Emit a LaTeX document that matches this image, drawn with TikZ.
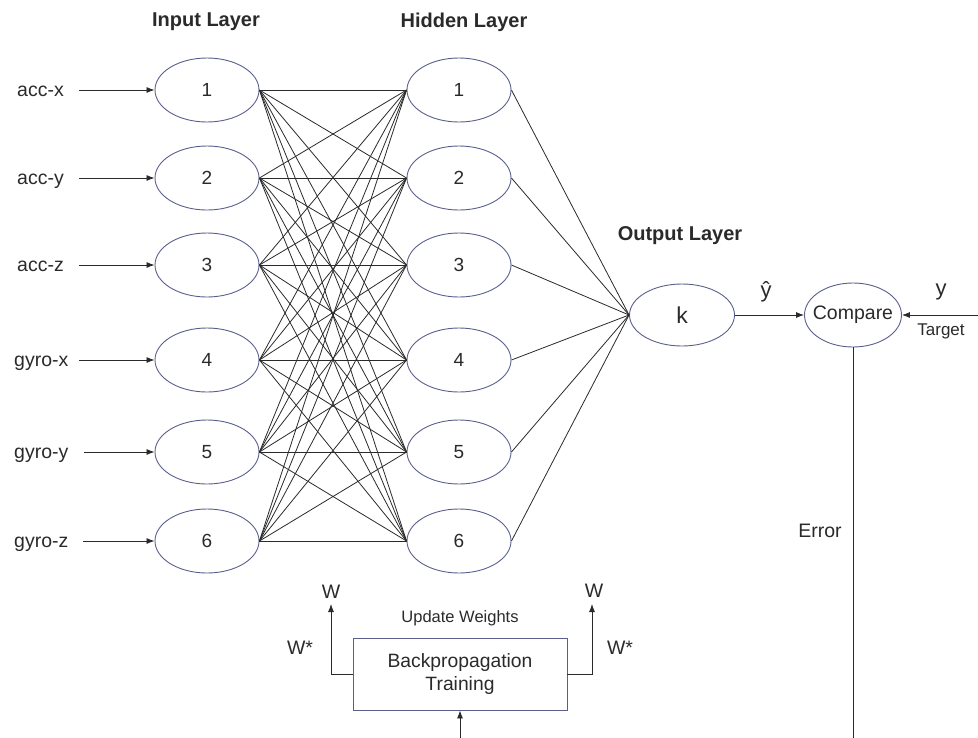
\documentclass[tikz,border=0pt]{standalone}
\usepackage{fontspec}
\setmainfont{Liberation Sans}
\usetikzlibrary{arrows.meta,shapes.geometric}
\definecolor{rim}{HTML}{5A5F8C}
\definecolor{ink}{HTML}{2A2A2A}
\tikzset{
  neuron/.style={ellipse, draw=rim, line width=0.9pt, minimum width=104pt,
    minimum height=64pt, inner sep=0pt, text=ink, font=\fontsize{19}{22}\selectfont},
  lbl/.style={text=ink, inner sep=1pt, font=\fontsize{19.5}{22}\selectfont},
  small/.style={text=ink, inner sep=1pt, font=\fontsize{16.5}{19}\selectfont},
  title/.style={text=ink, inner sep=1pt, font=\fontsize{20}{23}\selectfont\bfseries},
  wire/.style={draw=ink, line width=0.8pt},
  arr/.style={wire, -{Latex[length=8pt,width=6pt]}},
}
\begin{document}
\begin{tikzpicture}[x=1pt, y=-1pt]
\useasboundingbox (0,0) rectangle (978,737);
\clip (0,0) rectangle (978,737);

% layer titles
\node[title] (tin)  at (206,22)  {Input Layer};
\node[title] (thid) at (464,22)  {Hidden Layer};
\node[title] (tout) at (680,236) {Output Layer};

% input and hidden neurons
\foreach \i/\yy in {1/90, 2/178, 3/265, 4/360, 5/452, 6/541} {
  \node[neuron] (in\i)  at (207,\yy) {\i};
  \node[neuron] (hid\i) at (459,\yy) {\i};
}

% sensor inputs, set on a common baseline just below each arrow
\foreach \i/\name/\xx/\sx in {1/acc-x/16/79, 2/acc-y/16/79, 3/acc-z/16/79,
                              4/gyro-x/13/79, 5/gyro-y/13/84, 6/gyro-z/13/83} {
  \path (in\i.center) ++(0,6) coordinate (bl\i);
  \node[lbl, anchor=base west] (src\i) at (\xx,0 |- bl\i) {\name};
  \coordinate (st\i) at (\sx,0 |- in\i);
  \draw[arr] (st\i) -- (in\i.west);
}

% fully connected input -> hidden
\foreach \i in {1,...,6} {
  \foreach \j in {1,...,6} {
    \draw[wire] (in\i.east) -- (hid\j.west);
  }
}

% output neuron and comparison
\node[neuron, minimum width=105pt, minimum height=62pt,
      font=\fontsize{23}{25}\selectfont] (out) at (682,315) {k};
\foreach \j in {1,...,6} {
  \draw[wire] (hid\j.east) -- (out.west);
}
\node[neuron, minimum width=97pt, minimum height=64pt, inner xsep=-8pt,
      font=\fontsize{19.5}{22}\selectfont] (cmp) at (853,315) {Compare};
\draw[arr] (out.east) -- (cmp.west);
\node[lbl, font=\fontsize{22}{25}\selectfont] (yhat) at (766,292) {ŷ};

\coordinate (tgt) at (978,315);
\draw[arr] (tgt) -- (cmp.east);
\node[lbl, font=\fontsize{22}{25}\selectfont] (ylab) at (941,292) {y};
\node[small, font=\fontsize{17}{20}\selectfont] (target) at (941,331) {Target};

% training block
\node[draw=rim, line width=0.9pt, minimum width=214pt, minimum height=72pt,
      align=center, text=ink, font=\fontsize{19.3}{23}\selectfont, inner sep=0pt]
      (bp) at (460,674) {Backpropagation\\Training};
\node[small] (upd) at (460,618) {Update Weights};

% error feedback
\draw[arr] (cmp.south) -- (cmp.south |- 0,760) -| (bp.south);
\node[lbl] (err) at (820,531) {Error};

% weight updates
\coordinate (wl) at (331,604);
\coordinate (wr) at (592,604);
\draw[arr] (bp.west) -| (wl);
\draw[arr] (bp.east) -| (wr);
\node[lbl] (wlt) at (331,592) {W};
\node[lbl] (wls) at (300,648) {W*};
\node[lbl] (wrt) at (594,591) {W};
\node[lbl] (wrs) at (620,648) {W*};
\end{tikzpicture}
\end{document}
